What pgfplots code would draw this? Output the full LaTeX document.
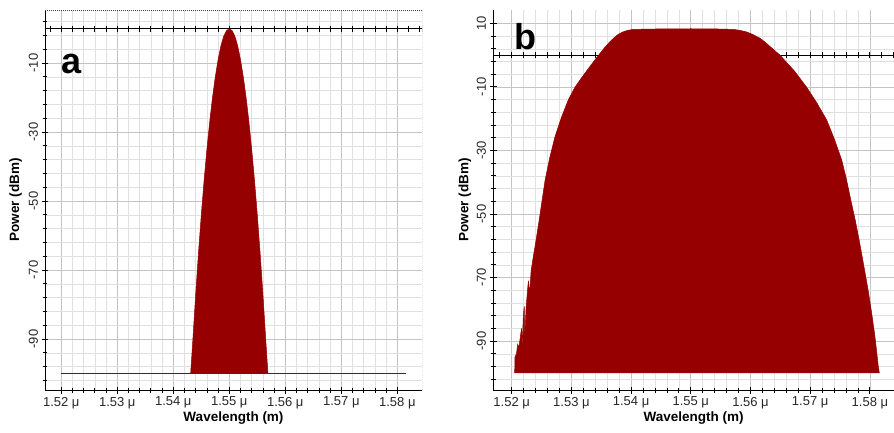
\documentclass[border=0pt]{standalone}
\usepackage{pgfplots}
\pgfplotsset{compat=1.18}
\usepackage{fontspec}
\setmainfont{Liberation Sans}

\definecolor{specred}{RGB}{150,0,0}
\definecolor{gridmaj}{RGB}{196,196,196}
\definecolor{gridmin}{RGB}{224,224,224}

% x values in nm, labelled in micrometres like the original
\pgfplotsset{
  spec/.style={
    scale only axis,
    height=380pt,
    clip marker paths=true,
    axis x line*=bottom,
    axis y line*=left,
    axis line style={black, line width=1pt},
    xtick={1520,1530,1540,1550,1560,1570,1580},
    xticklabels={1.52 μ,1.53 μ,1.54 μ,1.55 μ,1.56 μ,1.57 μ,1.58 μ},
    minor x tick num=4,
    ytick={-110,-90,-70,-50,-30,-10,10},
    minor y tick num=4,
    grid=both,
    major grid style={gridmaj, line width=0.6pt},
    minor grid style={gridmin, line width=0.5pt},
    tick align=center,
    major tick length=7pt,
    minor tick length=5pt,
    tick style={black, line width=0.8pt},
    ticklabel style={font=\fontsize{13}{15}\selectfont, text=black!85},
    yticklabel style={rotate=90, anchor=south},
    /pgf/number format/assume math mode=true,
    xlabel={Wavelength (m)},
    ylabel={Power (dBm)},
    label style={font=\bfseries\fontsize{13.5}{15}\selectfont},
    xlabel style={at={(axis description cs:0.5,-0.074)}, anchor=center},
  },
  zeroline/.style={black, line width=1.2pt, mark=|, mark size=3pt,
    mark options={line width=0.8pt}},
}

\begin{document}
\begin{tikzpicture}
\useasboundingbox (0,0) rectangle (894pt,432pt);

% ---------------- panel a ----------------
\begin{axis}[spec, at={(45pt,42pt)}, anchor=south west, width=377pt,
  xmin=1517.09, xmax=1584.41, ymin=-104.8, ymax=5.4,
  ylabel style={at={(axis description cs:-0.078,0.5)}, anchor=center}]
\addplot[zeroline] coordinates {
  (1517.09,0) (1518,0) (1520,0) (1522,0) (1524,0) (1526,0) (1528,0) (1530,0)
  (1532,0) (1534,0) (1536,0) (1538,0) (1540,0) (1542,0) (1544,0) (1546,0)
  (1548,0) (1550,0) (1552,0) (1554,0) (1556,0) (1558,0) (1560,0) (1562,0)
  (1564,0) (1566,0) (1568,0) (1570,0) (1572,0) (1574,0) (1576,0) (1578,0)
  (1580,0) (1582,0) (1584,0) (1584.41,0)};
\addplot[specred, line width=0.7pt] coordinates {(1520,-100) (1581.6,-100)};
\addplot[fill=specred, draw=specred, line width=0.5pt] coordinates {
  (1543.1,-100) (1543.5,-90) (1544.0,-77) (1544.5,-65) (1545.0,-54)
  (1545.5,-44) (1546.0,-35) (1546.5,-27) (1547.0,-20) (1547.5,-14)
  (1548.0,-9) (1548.5,-5) (1549.0,-2.2) (1549.5,-0.6) (1550.0,0)
  (1550.5,-0.6) (1551.0,-2.2) (1551.5,-5) (1552.0,-9) (1552.5,-14)
  (1553.0,-20) (1553.5,-27) (1554.0,-35) (1554.5,-44) (1555.0,-54)
  (1555.5,-65) (1556.0,-77) (1556.5,-90) (1556.9,-100)} -- cycle;
\draw[black!75, dash pattern=on 1pt off 1pt, line width=0.8pt]
  (rel axis cs:0,1) -- (rel axis cs:1,1) -- (rel axis cs:1,0);
\node[font=\bfseries\fontsize{36}{38}\selectfont, anchor=base]
  at (rel axis cs:0.071,0.834) {a};
\end{axis}

% ---------------- panel b ----------------
\begin{axis}[spec, at={(493pt,42pt)}, anchor=south west, width=401pt,
  xmin=1516.87, xmax=1584.04, ymin=-105.4, ymax=14.2,
  ylabel style={at={(axis description cs:-0.07,0.5)}, anchor=center}]
\addplot[zeroline] coordinates {
  (1516.87,0) (1518,0) (1520,0) (1522,0) (1524,0) (1526,0) (1528,0) (1530,0)
  (1532,0) (1534,0) (1536,0) (1538,0) (1540,0) (1542,0) (1544,0) (1546,0)
  (1548,0) (1550,0) (1552,0) (1554,0) (1556,0) (1558,0) (1560,0) (1562,0)
  (1564,0) (1566,0) (1568,0) (1570,0) (1572,0) (1574,0) (1576,0) (1578,0)
  (1580,0) (1582,0) (1584,0) (1584.04,0)};
\addplot[fill=specred, draw=specred, line width=0.5pt] coordinates {
  (1520.50,-100) (1520.55,-95) (1520.80,-94) (1521.00,-91) (1521.20,-92)
  (1521.50,-88) (1521.65,-86) (1521.75,-92) (1521.95,-82) (1522.10,-79)
  (1522.20,-88) (1522.40,-80) (1522.65,-74) (1522.80,-71) (1522.90,-73)
  (1523.00,-75) (1523.25,-68) (1523.62,-63.4) (1524.00,-59.2)
  (1524.60,-52) (1525.10,-45.6) (1525.60,-39.3)
  (1526.42,-31.9) (1527.25,-25.7) (1528.37,-19.4) (1529.48,-14.1)
  (1530.60,-10.1) (1531.45,-7.8) (1532.85,-4.2) (1534.15,-1.0)
  (1535.45,2.1) (1536.35,4.0) (1537.05,5.3) (1537.75,6.4) (1538.50,7.2)
  (1539.40,7.8) (1540.40,8.1) (1545.0,8.25) (1550.0,8.3) (1554.0,8.25)
  (1557.12,8.1) (1558.20,7.8) (1559.36,7.3) (1560.50,6.4) (1561.59,5.3)
  (1562.50,4.0) (1563.27,2.7) (1564.94,0) (1567.35,-5)
  (1569.41,-10.1) (1571.10,-15) (1572.76,-20.4) (1574.10,-26.7)
  (1575.28,-33) (1576.10,-39.3) (1576.80,-45.6) (1577.55,-52)
  (1578.30,-59.2) (1579.00,-66.5) (1579.70,-73.9) (1580.30,-81.2)
  (1580.85,-88.6) (1581.41,-98) (1581.58,-100)} -- cycle;
\node[font=\bfseries\fontsize{36}{38}\selectfont, anchor=base]
  at (rel axis cs:0.082,0.895) {b};
\end{axis}
\end{tikzpicture}
\end{document}
